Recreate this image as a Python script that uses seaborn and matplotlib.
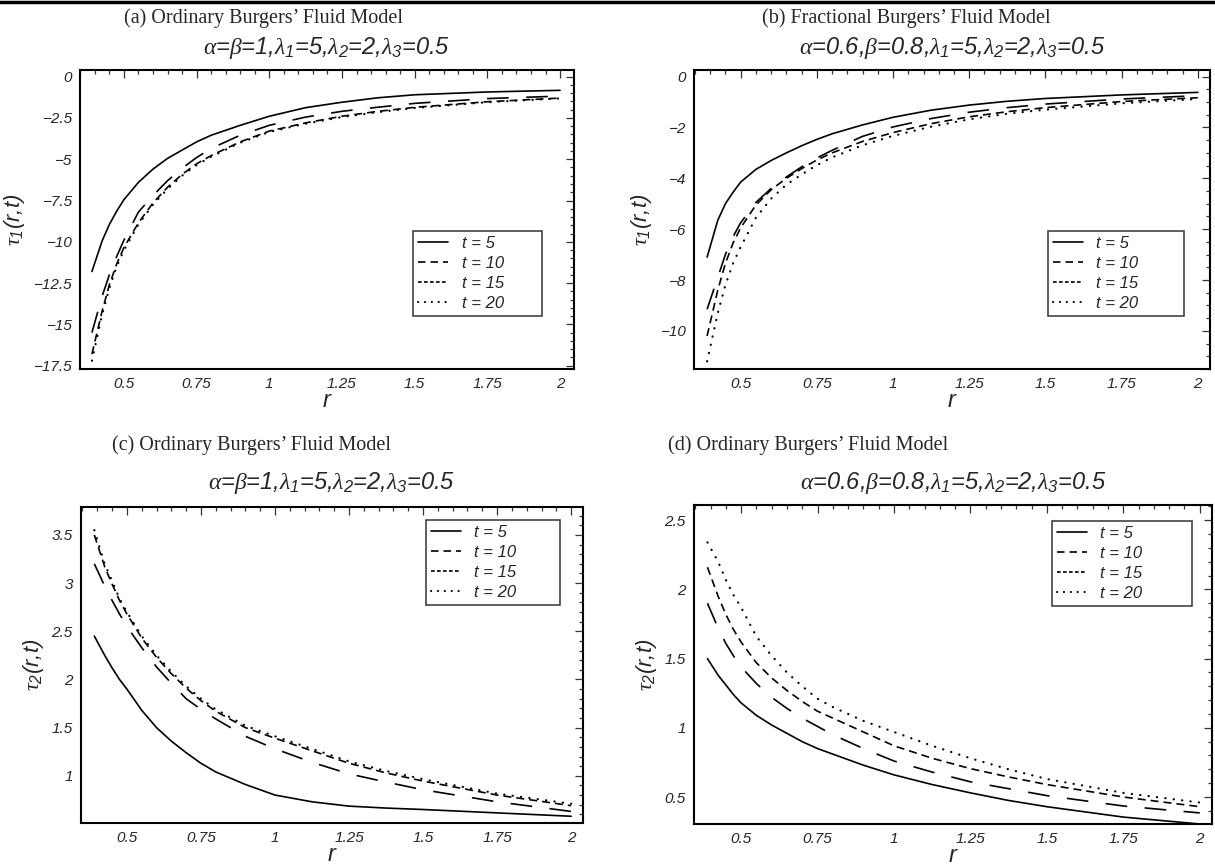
import numpy as np
import pandas as pd
import matplotlib
matplotlib.use("Agg")
import matplotlib.pyplot as plt
from matplotlib.lines import Line2D
from matplotlib.ticker import MultipleLocator, FixedLocator
import seaborn as sns

r = [0.39, 0.425, 0.45, 0.475, 0.5, 0.55, 0.6, 0.65, 0.7, 0.75, 0.8,
     0.9, 1.0, 1.125, 1.25, 1.375, 1.5, 1.75, 2.0]
t_values = [5, 10, 15, 20]

# (a) ordinary model, tau1
a_t5 = [-11.8, -9.95, -8.95, -8.15, -7.45, -6.4, -5.6, -4.95, -4.45, -3.95,
        -3.55, -2.95, -2.4, -1.88, -1.55, -1.28, -1.1, -0.93, -0.83]
a_t10 = [-15.5, -13.3, -12.0, -10.9, -9.9, -8.2, -7.2, -6.3, -5.55, -4.9,
         -4.35, -3.55, -2.95, -2.45, -2.1, -1.85, -1.62, -1.33, -1.18]
a_t15 = [-16.8, -14.2, -12.6, -11.35, -10.35, -8.85, -7.65, -6.7, -5.92, -5.28,
         -4.78, -3.95, -3.3, -2.8, -2.4, -2.1, -1.86, -1.52, -1.3]
a_t20 = [-17.2, -14.4, -12.8, -11.5, -10.5, -8.95, -7.75, -6.8, -6.0, -5.35,
         -4.85, -4.0, -3.35, -2.85, -2.45, -2.15, -1.9, -1.55, -1.32]

# (b) fractional model, tau1
b_t5 = [-7.1, -5.65, -5.0, -4.55, -4.15, -3.65, -3.3, -3.0, -2.72, -2.47,
        -2.25, -1.9, -1.6, -1.32, -1.12, -0.97, -0.86, -0.72, -0.62]
b_t10 = [-9.15, -7.9, -7.0, -6.3, -5.75, -4.95, -4.4, -3.95, -3.55, -3.2,
         -2.9, -2.35, -1.98, -1.65, -1.4, -1.22, -1.08, -0.88, -0.75]
b_t15 = [-10.2, -8.4, -7.35, -6.55, -5.95, -5.05, -4.45, -4.0, -3.62, -3.28,
         -3.0, -2.55, -2.2, -1.85, -1.58, -1.38, -1.22, -0.98, -0.83]
b_t20 = [-11.2, -9.3, -8.2, -7.35, -6.7, -5.55, -4.8, -4.25, -3.85, -3.48,
         -3.18, -2.7, -2.33, -1.97, -1.68, -1.46, -1.3, -1.05, -0.88]

# (c) ordinary model, tau2
c_t5 = [2.45, 2.25, 2.12, 2.0, 1.9, 1.68, 1.5, 1.36, 1.24, 1.13,
        1.04, 0.91, 0.80, 0.73, 0.685, 0.665, 0.65, 0.615, 0.58]
c_t10 = [3.2, 2.97, 2.82, 2.68, 2.55, 2.33, 2.13, 1.96, 1.8, 1.69,
         1.59, 1.41, 1.28, 1.14, 1.02, 0.935, 0.855, 0.73, 0.63]
c_t15 = [3.5, 3.17, 2.99, 2.82, 2.68, 2.43, 2.23, 2.06, 1.91, 1.78,
         1.67, 1.5, 1.39, 1.26, 1.13, 1.03, 0.945, 0.8, 0.69]
c_t20 = [3.55, 3.2, 3.02, 2.84, 2.7, 2.45, 2.25, 2.08, 1.93, 1.8,
         1.69, 1.52, 1.41, 1.28, 1.15, 1.05, 0.965, 0.815, 0.71]

# (d) alpha=0.6, beta=0.8, tau2
d_t5 = [1.5, 1.38, 1.31, 1.24, 1.18, 1.09, 1.02, 0.96, 0.9, 0.85,
        0.81, 0.73, 0.66, 0.59, 0.53, 0.475, 0.43, 0.355, 0.305]
d_t10 = [1.9, 1.72, 1.61, 1.52, 1.44, 1.32, 1.22, 1.14, 1.07, 1.01,
         0.95, 0.85, 0.76, 0.68, 0.61, 0.56, 0.51, 0.435, 0.385]
d_t15 = [2.16, 1.95, 1.82, 1.71, 1.62, 1.47, 1.36, 1.27, 1.19, 1.12,
         1.07, 0.97, 0.87, 0.78, 0.705, 0.645, 0.59, 0.5, 0.43]
d_t20 = [2.34, 2.2, 2.07, 1.96, 1.87, 1.66, 1.52, 1.4, 1.3, 1.21,
         1.15, 1.05, 0.97, 0.87, 0.78, 0.7, 0.63, 0.53, 0.46]

headings = ["(a) Ordinary Burgers\u2019 Fluid Model",
            "(b) Fractional Burgers\u2019 Fluid Model",
            "(c) Ordinary Burgers\u2019 Fluid Model",
            "(d) Ordinary Burgers\u2019 Fluid Model"]
title_ord = r"$\alpha$=$\beta$=1,$\lambda_1$=5,$\lambda_2$=2,$\lambda_3$=0.5"
title_frac = r"$\alpha$=0.6,$\beta$=0.8,$\lambda_1$=5,$\lambda_2$=2,$\lambda_3$=0.5"
xt = [0.5, 0.75, 1, 1.25, 1.5, 1.75, 2]

sns.set_style("white")
plt.rcParams["font.family"] = ["Liberation Sans", "DejaVu Sans"]
plt.rcParams["mathtext.fontset"] = "custom"
plt.rcParams["mathtext.it"] = "Liberation Serif:italic"
plt.rcParams["mathtext.rm"] = "Liberation Sans:italic"
plt.rcParams["mathtext.cal"] = "Liberation Sans:italic"

# line look per t (plot) and a shorter version for the legend keys
styles = {5: dict(linestyle="-", lw=1.2),
          10: dict(linestyle=(0, (13, 10.5)), lw=1.2),
          15: dict(linestyle=(0, (4.8, 3)), lw=1.2),
          20: dict(linestyle=(0, (0.1, 3.7)), lw=1.6, dash_capstyle="round")}
key_styles = {5: dict(linestyle="-", lw=1.2),
              10: dict(linestyle=(0, (4.5, 3)), lw=1.2),
              15: dict(linestyle=(0, (2.2, 1.4)), lw=1.2),
              20: dict(linestyle=(0, (0.1, 3.2)), lw=1.5, dash_capstyle="round")}

fig = plt.figure(figsize=(12.15, 8.68), dpi=100)
W, H = 1215, 868


def box(x0, x1, y0, y1):
    return [x0 / W, 1 - y1 / H, (x1 - x0) / W, (y1 - y0) / H]


panels = [
    dict(px=(80, 574, 70, 369), data=[a_t5, a_t10, a_t15, a_t20], title=title_ord,
         ylab=r"$\tau_1$(r,t)", xlim=(0.349, 2.048), ylim=(-17.7, 0.4),
         yt=[0, -2.5, -5, -7.5, -10, -12.5, -15, -17.5], ymin=0.5,
         leg=dict(loc="lower left", bbox_to_anchor=(0.675, 0.177, 0.26, 0)),
         hxy=(124, 18), fy=48),
    dict(px=(694, 1210, 70, 369), data=[b_t5, b_t10, b_t15, b_t20], title=title_frac,
         ylab=r"$\tau_1$(r,t)", xlim=(0.347, 2.04), ylim=(-11.5, 0.26),
         yt=[0, -2, -4, -6, -8, -10], ymin=0.5,
         leg=dict(loc="lower left", bbox_to_anchor=(0.686, 0.177, 0.264, 0)),
         hxy=(762, 18), fy=48),
    dict(px=(81, 583, 507, 823), data=[c_t5, c_t10, c_t15, c_t20], title=title_ord,
         ylab=r"$\tau_2$(r,t)", xlim=(0.345, 2.04), ylim=(0.51, 3.79),
         yt=[3.5, 3, 2.5, 2, 1.5, 1], ymin=0.1,
         leg=dict(loc="upper left", bbox_to_anchor=(0.687, 0.959, 0.267, 0)),
         hxy=(112, 445), fy=483),
    dict(px=(694, 1212, 505, 824), data=[d_t5, d_t10, d_t15, d_t20], title=title_frac,
         ylab=r"$\tau_2$(r,t)", xlim=(0.346, 2.04), ylim=(0.305, 2.61),
         yt=[2.5, 2, 1.5, 1, 0.5], ymin=0.1,
         leg=dict(loc="upper left", bbox_to_anchor=(0.691, 0.95, 0.27, 0)),
         hxy=(668, 445), fy=483),
]


def fmt(v):
    return ("%g" % v).replace("-", "\u2212")


for p, heading in zip(panels, headings):
    x0, x1, y0, y1 = p["px"]
    ax = fig.add_axes(box(x0, x1, y0, y1))
    for t, vals in zip(t_values, p["data"]):
        sns.lineplot(x=r, y=vals, ax=ax, color="black", legend=False,
                     **styles[t])
    ax.set_xlim(*p["xlim"])
    ax.set_ylim(*p["ylim"])
    ax.xaxis.set_major_locator(FixedLocator(xt))
    ax.set_xticklabels([fmt(v) for v in xt])
    ax.xaxis.set_minor_locator(MultipleLocator(0.05))
    ax.yaxis.set_major_locator(FixedLocator(p["yt"]))
    ax.set_yticklabels([fmt(v) for v in p["yt"]])
    ax.yaxis.set_minor_locator(MultipleLocator(p["ymin"]))
    ax.tick_params(which="both", direction="in", top=True, right=True,
                   labelsize=11, width=0.9, color="#333333")
    ax.tick_params(which="major", length=6)
    ax.tick_params(which="minor", length=3)
    ax.tick_params(axis="y", pad=6)
    ax.tick_params(axis="x", pad=6)
    for lab in ax.get_xticklabels() + ax.get_yticklabels():
        lab.set_fontstyle("italic")
    for sp in ax.spines.values():
        sp.set_linewidth(1.5)
        sp.set_color("black")
    # x label "r": baseline placed just under the tick labels
    ax.set_xlabel("r", fontsize=17, fontstyle="italic")
    ax.xaxis.label.set_va("baseline")
    ax.xaxis.set_label_coords(0.5, -38 / (y1 - y0))
    ax.set_ylabel(p["ylab"], fontsize=16, fontstyle="italic", labelpad=4)
    ax.text(0.5, 1 + (y0 - p["fy"]) / (y1 - y0), p["title"], transform=ax.transAxes,
            ha="center", va="center", fontsize=17, fontstyle="italic")
    keys = [Line2D([], [], color="black", **key_styles[t]) for t in t_values]
    leg = ax.legend(keys, [f"t = {t}" for t in t_values], mode="expand",
                    handlelength=1.8, fontsize=12, frameon=True,
                    fancybox=False, edgecolor="black", borderpad=0.3,
                    labelspacing=0.3, handletextpad=0.8, borderaxespad=0,
                    **p["leg"])
    leg.get_frame().set_linewidth(1.1)
    for txt in leg.get_texts():
        txt.set_fontstyle("italic")
    hx, hy = p["hxy"]
    fig.text(hx / W, 1 - hy / H, heading, fontsize=14.5,
             family="Liberation Serif", va="center", ha="left")

fig.add_artist(Line2D([0, 1], [0.998, 0.998], color="black", lw=2.5))

fig.savefig("out.png", dpi=100)
